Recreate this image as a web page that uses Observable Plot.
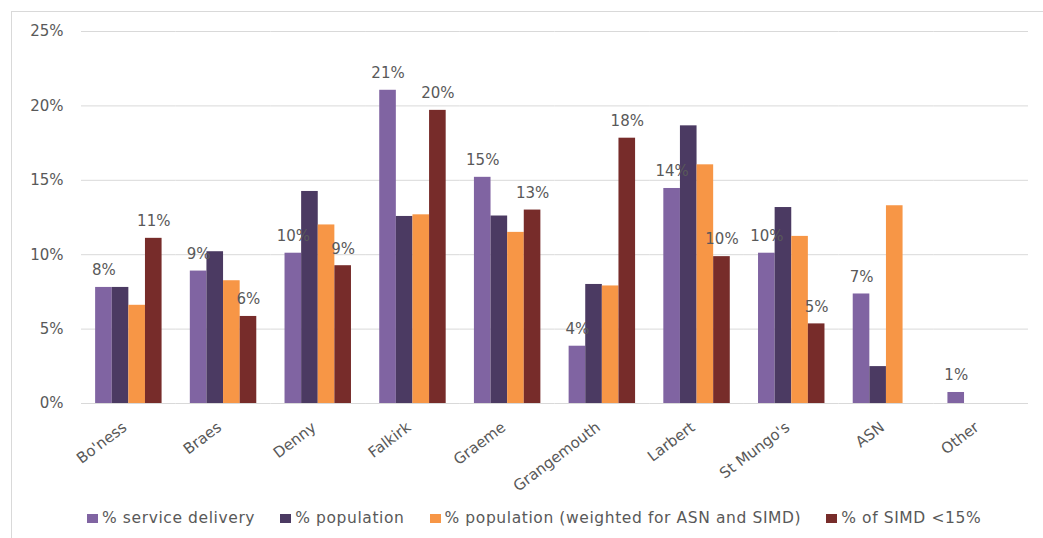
<!DOCTYPE html>
<html>
<head>
<meta charset="utf-8">
<script src="https://cdn.jsdelivr.net/npm/d3@7"></script>
<script src="https://cdn.jsdelivr.net/npm/@observablehq/plot@0.6"></script>
<style>
  html, body { margin: 0; padding: 0; background: #fff; }
  #wrap { position: relative; width: 1043px; height: 538px; overflow: hidden; font-family: "DejaVu Sans", sans-serif; color: #595959; }
  #frame { position: absolute; left: 11px; top: 11px; width: 1100px; height: 600px; border: 1px solid #d9d9d9; box-sizing: border-box; }
  #chart { position: absolute; left: 0; top: 0; }
  #legend { position: absolute; left: 87px; top: 509px; display: flex; gap: 25px; font-size: 15.5px; letter-spacing: 0.6px; line-height: 18px; white-space: nowrap; }
  #legend .item { display: flex; align-items: center; }
  #legend .sw { width: 11px; height: 9px; margin-right: 4px; }
</style>
</head>
<body>
<div id="wrap">
  <div id="frame"></div>
  <div id="chart"></div>
  <div id="legend"></div>
</div>
<script>
// Areas (one group of bars each)
const categories = ["Bo'ness", "Braes", "Denny", "Falkirk", "Graeme", "Grangemouth", "Larbert", "St Mungo's", "ASN", "Other"];

// Series names and colours
const series = ["% service delivery", "% population", "% population (weighted for ASN and SIMD)", "% of SIMD <15%"];
const seriesColors = ["#8064A2", "#4B3A62", "#F79646", "#772C2A"];

// Values per area, in percent (null = no bar)
const serviceDelivery = [7.8, 8.9, 10.1, 21.05, 15.2, 3.85, 14.45, 10.1, 7.36, 0.74];
const population      = [7.8, 10.2, 14.25, 12.57, 12.6, 8.0, 18.66, 13.17, 2.48, null];
const weighted        = [6.6, 8.25, 12.0, 12.68, 11.5, 7.9, 16.04, 11.23, 13.29, null];
const simdUnder15     = [11.1, 5.85, 9.26, 19.7, 13.0, 17.83, 9.87, 5.35, null, null];

// Series that carry value labels above their bars
const labelledSeries = ["% service delivery", "% of SIMD <15%"];

// y-axis ticks
const yTicks = [0, 5, 10, 15, 20, 25];

const valuesBySeries = [serviceDelivery, population, weighted, simdUnder15];
const rows = categories.flatMap((area, i) =>
  series.map((s, j) => ({area, series: s, value: valuesBySeries[j][i]}))
).filter(d => d.value != null);

const labelRows = rows.filter(d => labelledSeries.includes(d.series));

const chart = Plot.plot({
  width: 1043,
  height: 500,
  marginLeft: 81,
  marginRight: 15,
  marginTop: 31,
  marginBottom: 97,
  style: {fontFamily: "DejaVu Sans, sans-serif", fontSize: "15px", color: "#595959", background: "transparent"},
  fx: {domain: categories, padding: 0, round: false, label: null, axis: null},
  x: {domain: series, axis: null, round: false, paddingInner: 0, paddingOuter: 0.85},
  y: {domain: [0, 25], axis: null},
  color: {domain: series, range: seriesColors},
  marks: [
    Plot.gridY(yTicks, {stroke: "#d9d9d9", strokeOpacity: 1, strokeWidth: 1}),
    Plot.axisY(yTicks, {tickFormat: d => d + "%", tickSize: 0, tickPadding: 18, label: null, fill: "#595959", letterSpacing: 1}),
    Plot.axisFx({anchor: "bottom", tickRotate: -37, tickSize: 0, tickPadding: 22, dx: -4, label: null, fill: "#595959", letterSpacing: 0.4}),
    Plot.barY(rows, {fx: "area", x: "series", y: "value", fill: "series"}),
    Plot.text(labelRows, {
      fx: "area", x: "series", y: "value",
      text: d => `${Math.round(d.value)}%`,
      dy: -17, lineAnchor: "middle", textAnchor: "middle",
      fill: "#595959", fontSize: 15
    })
  ]
});
document.getElementById("chart").appendChild(chart);

// Legend row below the chart
const legend = document.getElementById("legend");
series.forEach((s, i) => {
  const item = document.createElement("div");
  item.className = "item";
  const sw = document.createElement("span");
  sw.className = "sw";
  sw.style.background = seriesColors[i];
  const label = document.createElement("span");
  label.textContent = s;
  item.appendChild(sw);
  item.appendChild(label);
  legend.appendChild(item);
});
</script>
</body>
</html>
